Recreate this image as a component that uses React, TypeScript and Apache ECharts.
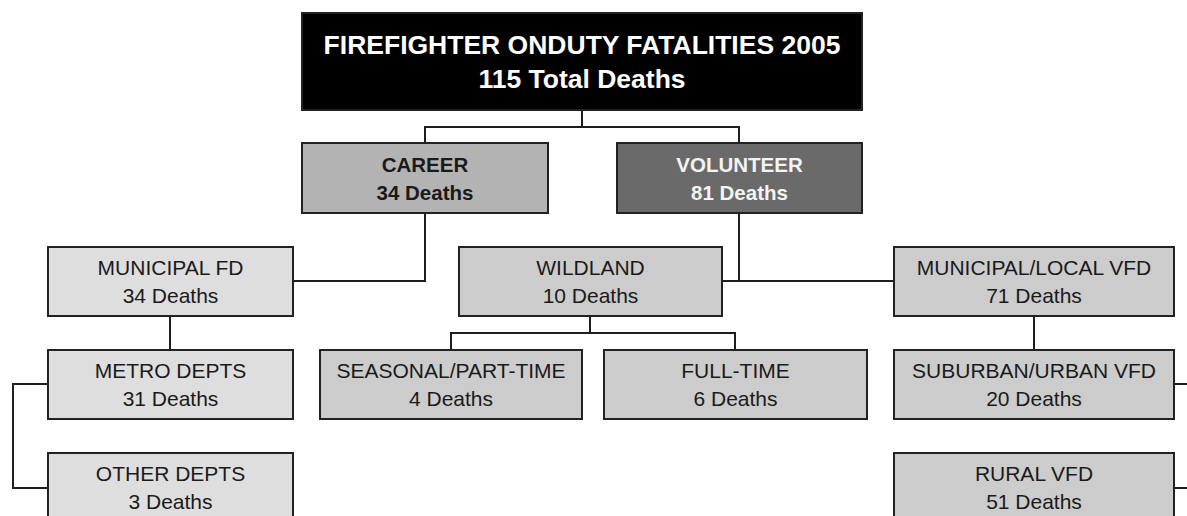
import React, { useEffect, useRef } from "react";
import * as echarts from "echarts";

// ---- Data ----
const nodeTitles = [
  "FIREFIGHTER ONDUTY FATALITIES 2005",
  "CAREER",
  "VOLUNTEER",
  "MUNICIPAL FD",
  "WILDLAND",
  "MUNICIPAL/LOCAL VFD",
  "METRO DEPTS",
  "OTHER DEPTS",
  "SEASONAL/PART-TIME",
  "FULL-TIME",
  "SUBURBAN/URBAN VFD",
  "RURAL VFD",
];
const nodeDeaths = [115, 34, 81, 34, 10, 71, 31, 3, 4, 6, 20, 51];
const nodeParents = [-1, 0, 0, 1, 2, 2, 3, 3, 4, 4, 5, 5];
const rootSuffix = "Total Deaths";
const nodeSuffix = "Deaths";

// ---- Layout (pixel units of the hidden axes) ----
const boxLeft = [302, 302, 617, 48, 459, 894, 48, 48, 320, 604, 894, 894];
const boxRight = [862, 548, 862, 293, 722, 1174, 293, 293, 582, 867, 1174, 1174];
const nodeRow = [0, 1, 1, 2, 2, 2, 3, 4, 3, 3, 3, 4];
const rowTop = [13, 143, 247, 350, 453];
const rowBottom = [110, 213, 316, 419, 522];
const rowLineGap = [17, 14, 14, 14, 14];

// ---- Styles ----
const boxFill = [
  "#000000", "#b3b3b3", "#6a6a6a", "#dedede", "#cccccc", "#cccccc",
  "#dedede", "#dedede", "#cccccc", "#cccccc", "#cccccc", "#cccccc",
];
const textFill = [
  "#ffffff", "#1a1a1a", "#f4f4f4", "#1a1a1a", "#1a1a1a", "#1a1a1a",
  "#1a1a1a", "#1a1a1a", "#1a1a1a", "#1a1a1a", "#1a1a1a", "#1a1a1a",
];
const rowFontSize = [26.5, 20.5, 21, 21, 21];
const rowFontWeight = ["bold", "bold", "normal", "normal", "normal"];

const connectors: number[][][] = [
  [[582, 110], [582, 127]],
  [[425, 143], [425, 127], [739, 127], [739, 143]],
  [[425, 213], [425, 281], [293, 281]],
  [[739, 213], [739, 281]],
  [[722, 281], [894, 281]],
  [[170, 316], [170, 350]],
  [[48, 384], [13, 384], [13, 488], [48, 488]],
  [[590, 316], [590, 333]],
  [[451, 350], [451, 333], [735, 333], [735, 350]],
  [[1034, 316], [1034, 350]],
  [[1174, 384], [1209, 384], [1209, 488], [1174, 488]],
];

const FONT = "'Liberation Sans', Arial, sans-serif";

export default function App() {
  const ref = useRef<HTMLDivElement>(null);
  useEffect(() => {
    document.body.style.margin = "0";
    if (!ref.current) return;
    const chart = echarts.init(ref.current, undefined, { renderer: "svg" });

    const boxData = nodeTitles.map((_, i) => [
      (boxLeft[i] + boxRight[i]) / 2,
      (rowTop[nodeRow[i]] + rowBottom[nodeRow[i]]) / 2,
      i,
    ]);
    const linkData = connectors.map((pts, i) => [pts[0][0], pts[0][1], i]);

    chart.setOption({
      animation: false,
      backgroundColor: "#ffffff",
      grid: { left: 0, right: 0, top: 0, bottom: 0, containLabel: false },
      xAxis: { type: "value", min: 0, max: 1187, show: false },
      yAxis: { type: "value", min: 0, max: 516, inverse: true, show: false },
      series: [
        {
          type: "custom",
          name: "links",
          clip: false,
          silent: true,
          data: linkData,
          renderItem: (params: any, api: any) => {
            const pts = connectors[params.dataIndex].map((p) => api.coord(p));
            return {
              type: "polyline",
              shape: { points: pts },
              style: { stroke: "#1e1e1e", lineWidth: 2, fill: "none" },
            };
          },
        },
        {
          type: "custom",
          name: "boxes",
          clip: false,
          silent: true,
          data: boxData,
          renderItem: (params: any, api: any) => {
            const i = params.dataIndex;
            const r = nodeRow[i];
            const p0 = api.coord([boxLeft[i], rowTop[r]]);
            const p1 = api.coord([boxRight[i], rowBottom[r]]);
            const cx = (p0[0] + p1[0]) / 2;
            const cy = (p0[1] + p1[1]) / 2;
            const gap = rowLineGap[r];
            const line2 =
              nodeParents[i] < 0
                ? `${nodeDeaths[i]} ${rootSuffix}`
                : `${nodeDeaths[i]} ${nodeSuffix}`;
            const textStyle = {
              fill: textFill[i],
              fontSize: rowFontSize[r],
              fontWeight: rowFontWeight[r],
              fontFamily: FONT,
              align: "center",
              verticalAlign: "middle",
            };
            return {
              type: "group",
              children: [
                {
                  type: "rect",
                  shape: { x: p0[0], y: p0[1], width: p1[0] - p0[0], height: p1[1] - p0[1] },
                  style: { fill: boxFill[i], stroke: "#222222", lineWidth: 2 },
                },
                {
                  type: "text",
                  style: { ...textStyle, text: nodeTitles[i], x: cx, y: cy - gap },
                },
                {
                  type: "text",
                  style: { ...textStyle, text: line2, x: cx, y: cy + gap },
                },
              ],
            };
          },
        },
      ],
    });
    return () => chart.dispose();
  }, []);
  return <div ref={ref} style={{ width: 1187, height: 516 }} />;
}
